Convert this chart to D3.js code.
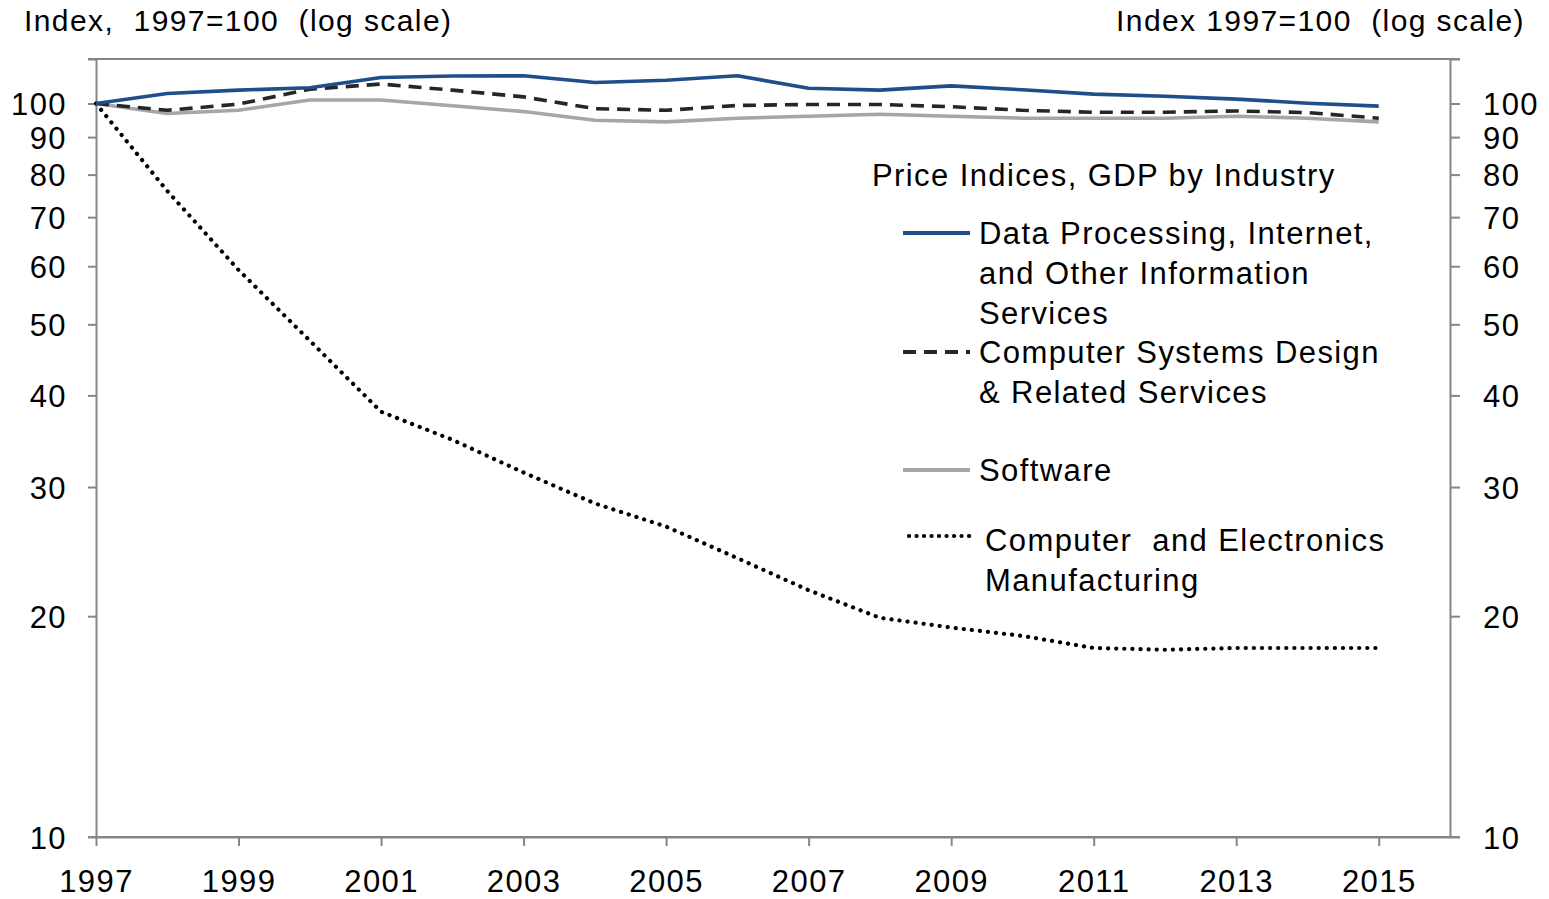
<!DOCTYPE html>
<html>
<head>
<meta charset="utf-8">
<script src="https://cdn.jsdelivr.net/npm/d3@7"></script>
<style>
  body { margin: 0; background: #fff; }
  text { font-family: "Liberation Sans", Arial, sans-serif; fill: #000; }
</style>
</head>
<body>
<script>
// Years and series (index, 1997 = 100)
const years = d3.range(1997, 2016);
const dataProcessing = [100, 103.2, 104.3, 105.1, 108.5, 109.0, 109.1, 106.8, 107.6, 109.1,
  104.9, 104.3, 105.7, 104.4, 103.0, 102.3, 101.4, 100.1, 99.2];
const compSystems = [100, 97.9, 99.8, 104.6, 106.3, 104.3, 102.1, 98.4, 97.9, 99.4,
  99.7, 99.7, 99.0, 97.9, 97.3, 97.3, 97.7, 97.2, 95.5];
const software = [100, 96.9, 97.9, 101.1, 101.1, 99.3, 97.5, 94.9, 94.4, 95.5,
  96.1, 96.7, 96.1, 95.5, 95.5, 95.5, 96.1, 95.5, 94.4];
const compElectronics = [100, 76.0, 59.3, 47.5, 38.0, 34.8, 31.4, 28.5, 26.5, 24.0,
  21.7, 19.9, 19.3, 18.8, 18.1, 18.0, 18.1, 18.1, 18.1];

const yTicks = [10, 20, 30, 40, 50, 60, 70, 80, 90, 100];
const xTicks = [1997, 1999, 2001, 2003, 2005, 2007, 2009, 2011, 2013, 2015];

const series = [
  { name: ["Data Processing, Internet,", "and Other Information", "Services"], values: dataProcessing,
    color: "#1F4E89", dash: null, cap: "butt" },
  { name: ["Computer Systems Design", "& Related Services"], values: compSystems,
    color: "#262626", dash: "13,8", cap: "butt" },
  { name: ["Software"], values: software,
    color: "#A6A6A6", dash: null, cap: "butt" },
  { name: ["Computer  and Electronics", "Manufacturing"], values: compElectronics,
    color: "#000000", dash: "0.1,8", cap: "round" }
];

const W = 1549, H = 899;
const margin = { top: 59, right: 99, bottom: 62, left: 96 };
const width = W - margin.left - margin.right,
      height = H - margin.top - margin.bottom;

const fontSize = "31px", spacing = "1.4px";

const svg = d3.select("body").append("svg")
  .attr("width", W).attr("height", H);

const g = svg.append("g")
  .attr("transform", `translate(${margin.left},${margin.top})`);

const x = d3.scaleLinear().domain([1997, 2016]).range([0, width]);
const y = d3.scaleLog().domain([10, 115]).range([height, 0]);

const axisColor = "#868686";

// axes
const left = g.append("g")
  .call(d3.axisLeft(y).tickValues(yTicks.concat([115])).tickSize(8).tickSizeOuter(0)
    .tickFormat(d => d === 115 ? "" : d));
const right = g.append("g")
  .attr("transform", `translate(${width},0)`)
  .call(d3.axisRight(y).tickValues(yTicks.concat([115])).tickSize(10).tickSizeOuter(0)
    .tickFormat(d => d === 115 ? "" : d));
const bottom = g.append("g")
  .attr("transform", `translate(0,${height})`)
  .call(d3.axisBottom(x).tickValues(xTicks).tickSize(9).tickSizeOuter(0).tickFormat(d3.format("d")));

[left, right, bottom].forEach(a => {
  a.select(".domain").attr("stroke", axisColor).attr("stroke-width", 2);
  a.selectAll(".tick line").attr("stroke", axisColor).attr("stroke-width", 2);
  a.selectAll(".tick text").style("font-size", fontSize).style("letter-spacing", spacing)
    .attr("fill", "#000");
});
left.selectAll(".tick text").attr("x", -29).attr("dy", "0.36em");
right.selectAll(".tick text").attr("x", 33).attr("dy", "0.36em");
bottom.selectAll(".tick text").attr("y", 33);

// bottom axis extends a bit past both ends, top frame line
g.append("line")
  .attr("x1", -8).attr("x2", width + 10)
  .attr("y1", height).attr("y2", height)
  .attr("stroke", axisColor).attr("stroke-width", 2);
g.append("line")
  .attr("x1", -8).attr("x2", width + 10)
  .attr("y1", y(115)).attr("y2", y(115))
  .attr("stroke", axisColor).attr("stroke-width", 2);

// lines
const line = d3.line()
  .x((d, i) => x(years[i]))
  .y(d => y(d));

series.slice().reverse().forEach(s => {
  g.append("path")
    .datum(s.values)
    .attr("d", line)
    .attr("fill", "none")
    .attr("stroke", s.color)
    .attr("stroke-width", s.cap === "round" ? 4.2 : 3.6)
    .attr("stroke-linecap", s.cap)
    .attr("stroke-linejoin", "round")
    .attr("stroke-dasharray", s.dash);
});

// axis titles
svg.append("text").attr("x", 24).attr("y", 31)
  .style("font-size", "30px").style("letter-spacing", spacing).attr("xml:space", "preserve")
  .text("Index,  1997=100  (log scale)");
svg.append("text").attr("x", 1525).attr("y", 31)
  .attr("text-anchor", "end")
  .style("font-size", "30px").style("letter-spacing", spacing).attr("xml:space", "preserve")
  .text("Index 1997=100  (log scale)");

// legend
const lg = svg.append("g");
lg.append("text").attr("x", 872).attr("y", 186)
  .style("font-size", fontSize).style("letter-spacing", spacing).attr("xml:space", "preserve")
  .text("Price Indices, GDP by Industry");

const legendY = [233, 352, 470, 540];
const lineH = 40;
series.forEach((s, i) => {
  const cy = legendY[i];
  const dotted = s.cap === "round";
  lg.append("line")
    .attr("x1", dotted ? 909 : 903).attr("x2", dotted ? 975 : 970)
    .attr("y1", dotted ? cy - 4 : cy).attr("y2", dotted ? cy - 4 : cy)
    .attr("stroke", s.color)
    .attr("stroke-width", dotted ? 4.2 : 3.8)
    .attr("stroke-linecap", s.cap)
    .attr("stroke-dasharray", dotted ? "0.1,7.4" : s.dash);
  s.name.forEach((t, j) => {
    lg.append("text")
      .attr("x", dotted ? 985 : 979)
      .attr("y", cy + j * lineH + 11)
      .style("font-size", fontSize).style("letter-spacing", spacing).attr("xml:space", "preserve")
      .text(t);
  });
});
</script>
</body>
</html>
